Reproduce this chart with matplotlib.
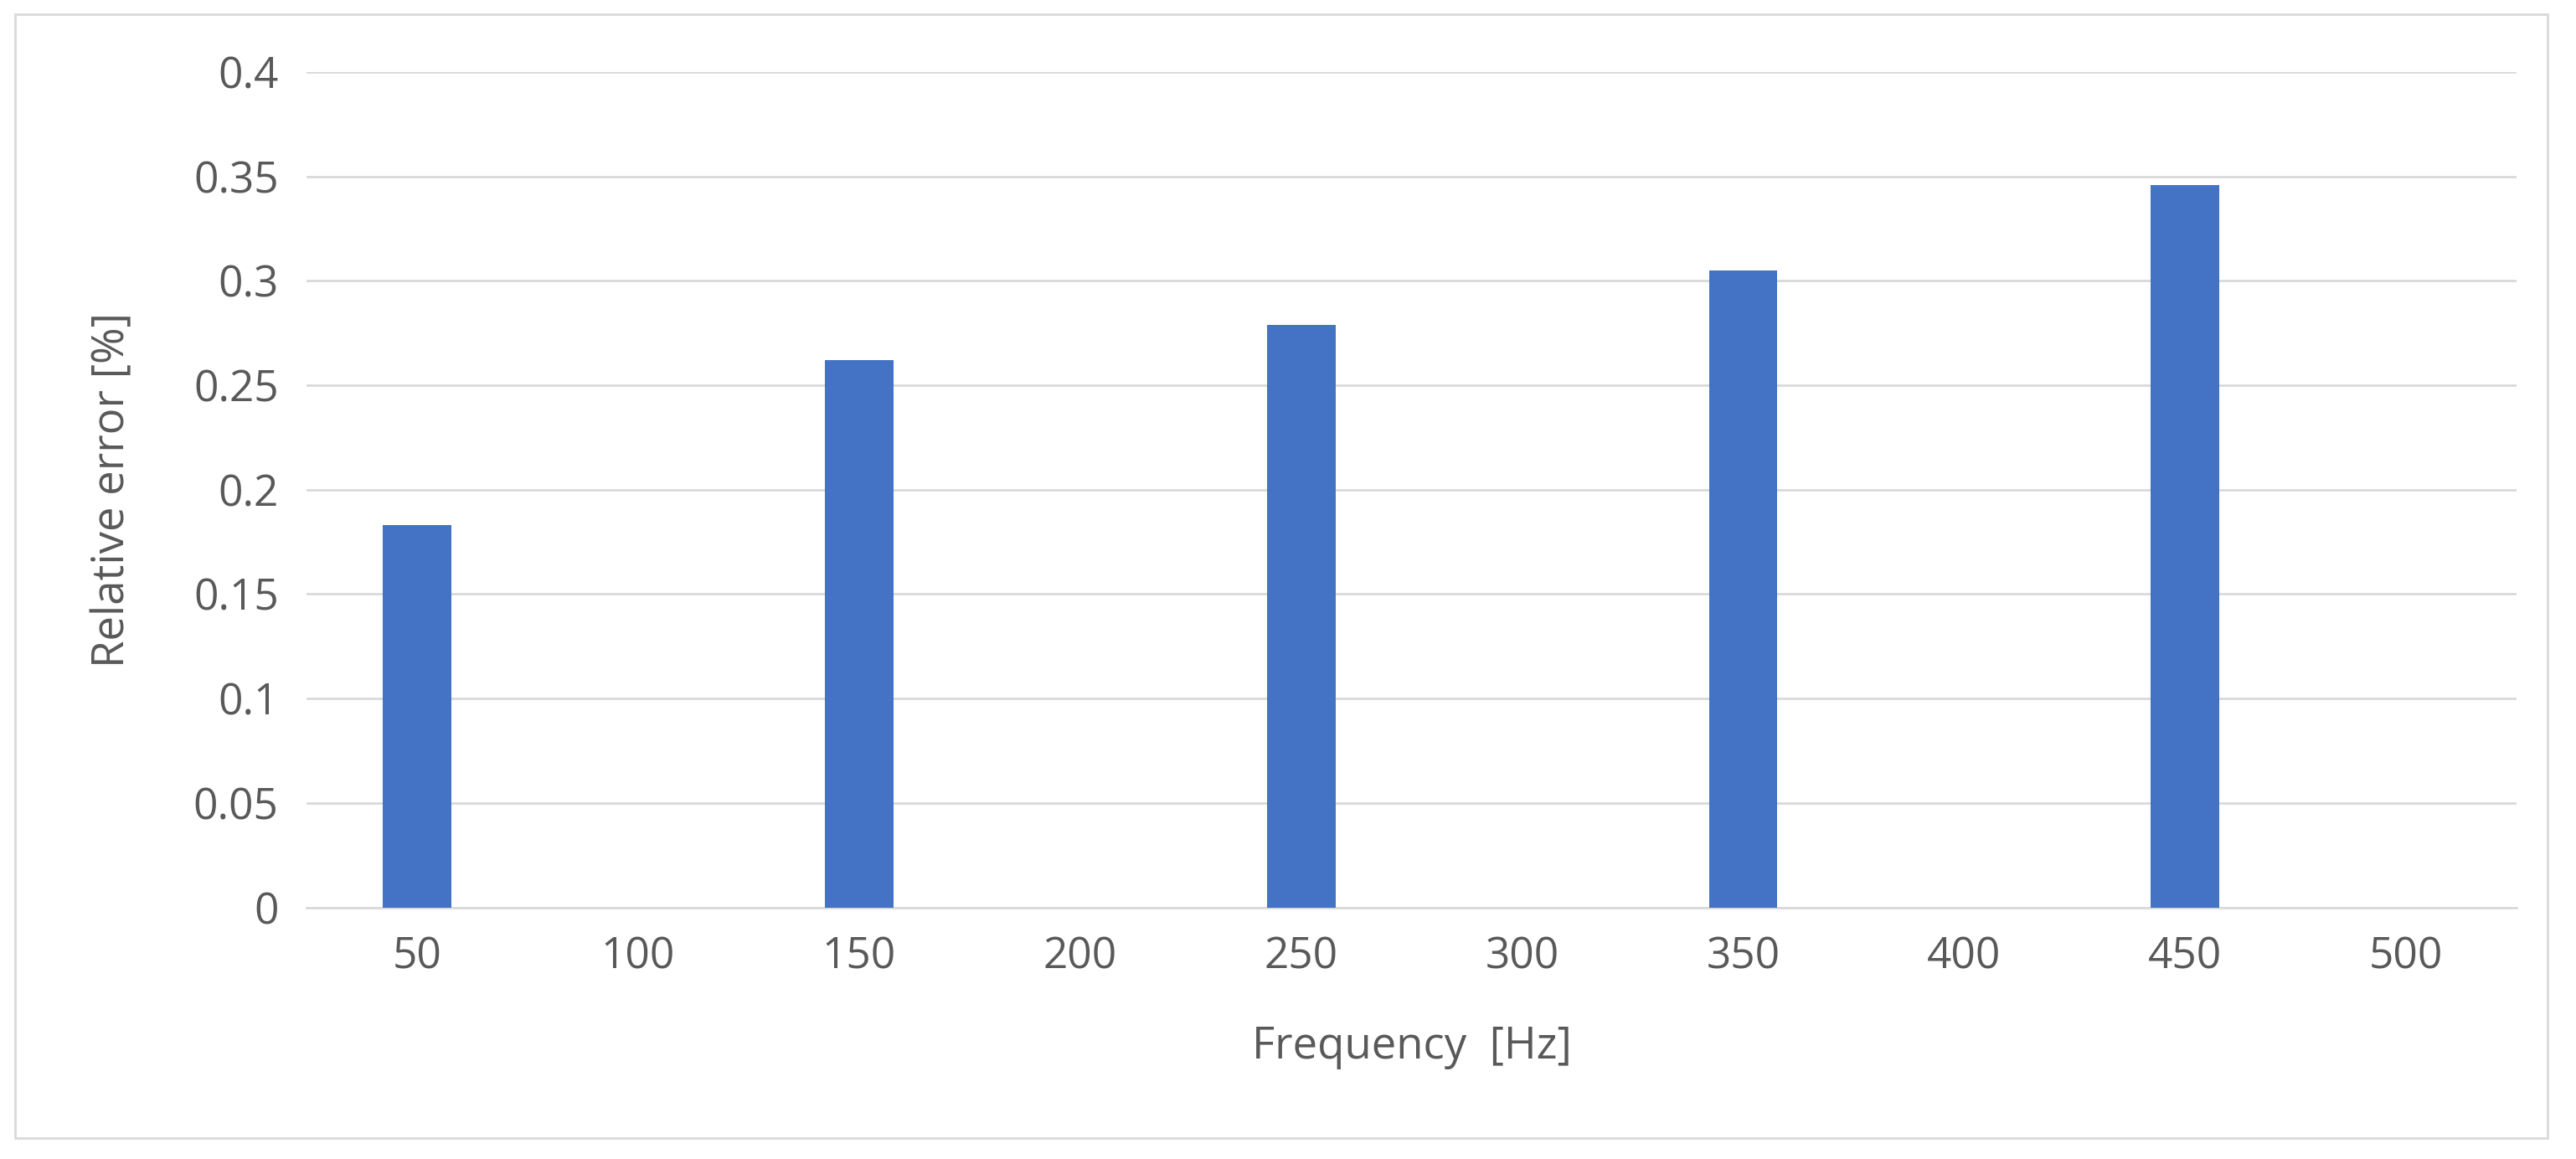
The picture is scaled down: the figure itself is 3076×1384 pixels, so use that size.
import matplotlib
matplotlib.use("Agg")
import matplotlib.pyplot as plt
from matplotlib.patches import Rectangle

categories = ["50", "100", "150", "200", "250", "300", "350", "400", "450", "500"]
values = [0.183, 0, 0.262, 0, 0.279, 0, 0.305, 0, 0.346, 0]
yticks = [0, 0.05, 0.1, 0.15, 0.2, 0.25, 0.3, 0.35, 0.4]
ytick_labels = ["0", "0.05", "0.1", "0.15", "0.2", "0.25", "0.3", "0.35", "0.4"]

plt.rcParams['font.family'] = ['Open Sans', 'DejaVu Sans']
fig = plt.figure(figsize=(30.76, 13.84), dpi=100)
fig.patches.append(Rectangle((0.006, 0.018), 0.983, 0.97, transform=fig.transFigure,
                             fill=False, edgecolor='#d9d9d9', linewidth=2))
ax = fig.add_axes([0.119, 0.217, 0.858, 0.721])
x = list(range(len(categories)))
ax.bar(x, values, width=0.31, color='#4472C4', zorder=3)
ax.set_xlim(-0.5, len(categories) - 0.5)
ax.set_ylim(0, 0.4)
ax.set_yticks(yticks)
ax.set_yticklabels(ytick_labels)
ax.set_xticks(x)
ax.set_xticklabels(categories)
ax.grid(axis='y', color='#d9d9d9', linewidth=2, zorder=0)
for s in ['top', 'right', 'left']:
    ax.spines[s].set_visible(False)
ax.spines['bottom'].set_color('#d9d9d9')
ax.spines['bottom'].set_linewidth(2)
ax.tick_params(length=0, labelsize=37, colors='#595959', pad=24)
ax.set_xlabel("Frequency  [Hz]", fontsize=38, color='#595959', labelpad=40)
ax.set_ylabel("Relative error [%]", fontsize=38, color='#595959', labelpad=50)
fig.savefig("out.png", dpi=100)
